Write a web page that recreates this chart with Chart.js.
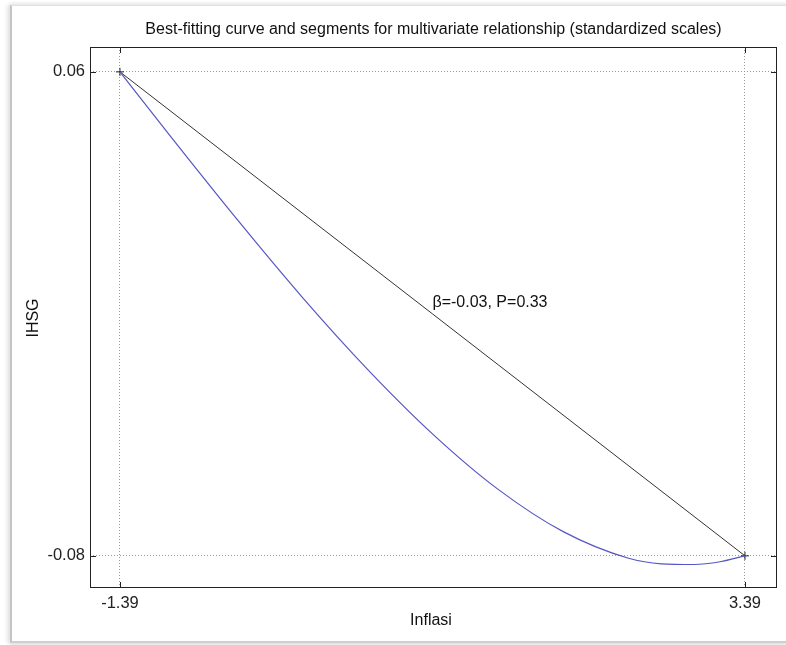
<!DOCTYPE html>
<html>
<head>
<meta charset="utf-8">
<script src="https://cdn.jsdelivr.net/npm/chart.js@4.4.0/dist/chart.umd.min.js"></script>
<style>
    html, body { margin: 0; padding: 0; background: #fff; }
    #wrap { position: relative; width: 786px; height: 645px; overflow: hidden; }
    #frame {
        position: absolute; left: 10px; top: 5px; width: 780px; height: 635px;
        background: #fff;
        border-left: 2px solid #c4c4c4;
        border-top: 1px solid #e2e2e2;
        border-bottom: 2px solid #cfcfcf;
        box-shadow: -3px 0 4px #e4e4e4, 0 -2px 3px #eeeeee, 0 2px 3px #e0e0e0;
    }
    #grafica { position: absolute; left: 0; top: 0; }
</style>
</head>
<body>
<div id="wrap">
    <div id="frame"></div>
    <canvas id="grafica" width="786" height="645"></canvas>
</div>
<script>
// Datos
const titulo = 'Best-fitting curve and segments for multivariate relationship (standardized scales)'
const etiquetaX = 'Inflasi'
const etiquetaY = 'IHSG'
const nota = 'β=-0.03, P=0.33'

const ticksX = [-1.39, 3.39]
const ticksY = [-0.08, 0.06]

// curva ajustada (azul)
const curvaX = [-1.39, -1.0, -0.5, 0, 0.5, 1.0, 1.5, 2.0, 2.5, 2.75, 3.0, 3.2, 3.39]
const curvaY = [0.06, 0.0412, 0.0176, -0.0050, -0.0259, -0.0447, -0.0607, -0.0730, -0.0807, -0.0823, -0.0825, -0.0817, -0.08]

// segmento (negro)
const segmentoX = [-1.39, 3.39]
const segmentoY = [0.06, -0.08]

// posicion de la nota (en unidades de los ejes)
const notaX = 1.0
const notaY = -0.0067

const fuente = '"Liberation Sans", Arial, sans-serif'

const extras = {
    id: 'extras',
    afterDatasetsDraw(chart) {
        const { ctx, chartArea: a, scales } = chart
        ctx.save()
        // marco del grafico
        ctx.strokeStyle = '#222'
        ctx.lineWidth = 1
        ctx.strokeRect(a.left + 0.5, a.top + 0.5, a.right - a.left - 1, a.bottom - a.top - 1)
        // marcas hacia adentro
        ctx.beginPath()
        ticksX.forEach(v => {
            const x = Math.round(scales.x.getPixelForValue(v)) + 0.5
            ctx.moveTo(x, a.bottom); ctx.lineTo(x, a.bottom - 6)
            ctx.moveTo(x, a.top); ctx.lineTo(x, a.top + 6)
        })
        ticksY.forEach(v => {
            const y = Math.round(scales.y.getPixelForValue(v)) + 0.5
            ctx.moveTo(a.left, y); ctx.lineTo(a.left + 6, y)
            ctx.moveTo(a.right, y); ctx.lineTo(a.right - 6, y)
        })
        ctx.stroke()

        // nota sobre la recta
        ctx.font = '16px ' + fuente
        const px = scales.x.getPixelForValue(notaX)
        const py = scales.y.getPixelForValue(notaY)
        ctx.fillStyle = '#fff'
        ctx.fillRect(px - 1, py - 8, 9, 16)
        ctx.fillStyle = '#111'
        ctx.textAlign = 'left'
        ctx.textBaseline = 'middle'
        ctx.fillText(nota, px, py)

        // titulo
        ctx.textAlign = 'center'
        ctx.fillText(titulo, (a.left + a.right) / 2, 30)
        // etiqueta eje x
        ctx.fillText(etiquetaX, 431, 621)
        // etiqueta eje y
        ctx.translate(34, 318)
        ctx.rotate(-Math.PI / 2)
        ctx.fillText(etiquetaY, 0, 0)
        ctx.restore()
    }
}

const ctx = document.getElementById('grafica').getContext('2d')
new Chart(ctx, {
    type: 'line',
    data: {
        datasets: [
            {
                label: 'curva',
                data: curvaX.map((x, i) => ({ x, y: curvaY[i] })),
                borderColor: '#5656c4',
                borderWidth: 1.2,
                pointRadius: 0,
                cubicInterpolationMode: 'monotone',
                fill: false
            },
            {
                label: 'segmento',
                data: segmentoX.map((x, i) => ({ x, y: segmentoY[i] })),
                borderColor: '#333',
                borderWidth: 1,
                pointStyle: 'cross',
                pointRadius: 4,
                pointBorderColor: '#222',
                pointBorderWidth: 1,
                tension: 0,
                fill: false
            }
        ]
    },
    options: {
        responsive: false,
        animation: false,
        layout: { padding: { left: 0, right: 9, top: 47, bottom: 0 } },
        plugins: {
            legend: { display: false },
            tooltip: { enabled: false }
        },
        scales: {
            x: {
                type: 'linear',
                min: -1.619,
                max: 3.635,
                afterBuildTicks: s => { s.ticks = ticksX.map(v => ({ value: v })) },
                afterFit: s => { s.height = 57 },
                ticks: {
                    color: '#222',
                    font: { size: 16.5, family: fuente },
                    padding: 6,
                    maxRotation: 0,
                    callback: v => v.toFixed(2)
                },
                grid: { color: '#999', drawTicks: false, lineWidth: 1 },
                border: { display: false, dash: [1, 2] }
            },
            y: {
                type: 'linear',
                min: -0.0893,
                max: 0.0672,
                afterBuildTicks: s => { s.ticks = ticksY.map(v => ({ value: v })) },
                afterFit: s => { s.width = 90 },
                ticks: {
                    color: '#222',
                    font: { size: 16.5, family: fuente },
                    padding: 5,
                    callback: v => v.toFixed(2)
                },
                grid: { color: '#999', drawTicks: false, lineWidth: 1 },
                border: { display: false, dash: [1, 2] }
            }
        }
    },
    plugins: [extras]
})
</script>
</body>
</html>
